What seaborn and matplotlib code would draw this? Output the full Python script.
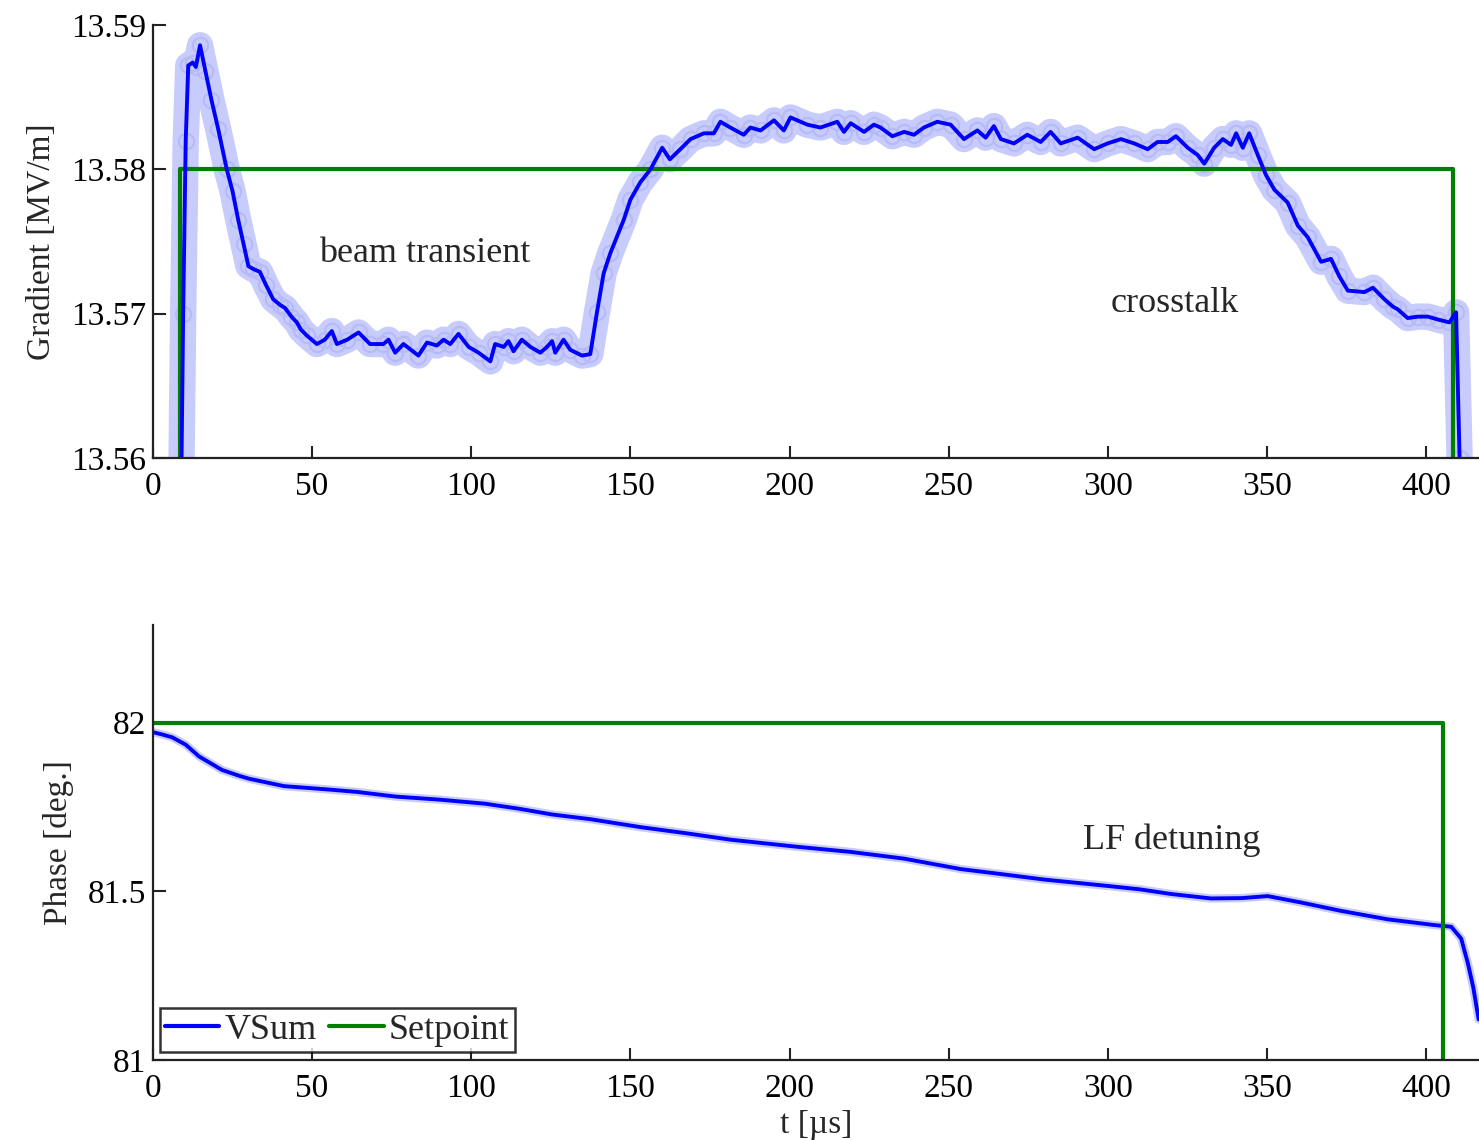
import matplotlib
matplotlib.use("Agg")
import matplotlib.pyplot as plt
import seaborn as sns
import numpy as np

# ---------------- data ----------------
grad_t = [8.8, 9.5, 10.3, 11.1, 12.5, 13.5, 14.8, 16.5, 18.4, 20.5,
          23.2, 25.0, 26.8, 28.5, 30.0, 31.5, 33.6, 35.5, 37.8, 40.0,
          41.5, 43.5, 45.2, 46.5, 48.3, 51.5, 54.0, 56.2, 57.8, 61.0,
          64.6, 68.2, 72.4, 74.0, 76.1, 78.7, 83.4, 86.1, 89.2, 91.3,
          93.4, 96.0, 99.2, 102.3, 106.0, 107.5, 110.2, 111.7, 113.3, 115.9,
          118.6, 121.7, 123.8, 125.4, 126.4, 129.0, 131.1, 134.8, 137.4, 139.5,
          141.6, 143.7, 147.9, 150.0, 153.1, 156.3, 160.0, 162.4, 165.7, 168.9,
          173.1, 176.2, 178.3, 181.4, 185.6, 187.7, 190.9, 195.1, 198.2, 200.3,
          205.6, 209.7, 215.0, 217.1, 219.2, 223.4, 226.5, 228.6, 232.3, 236.0,
          239.1, 242.2, 246.4, 250.6, 254.8, 259.0, 261.6, 264.2, 266.4, 270.5,
          274.7, 278.9, 282.0, 285.2, 290.5, 295.7, 299.9, 304.1, 308.3, 312.5,
          315.6, 318.8, 321.4, 325.1, 328.2, 330.3, 333.4, 336.1, 338.7, 340.3,
          342.4, 344.4, 347.1, 349.7, 352.3, 356.5, 359.7, 362.8, 367.0, 370.1,
          372.7, 375.4, 380.6, 383.3, 386.9, 389.5, 391.1, 394.2, 397.4, 400.5,
          403.7, 407.3, 409.4, 410.5, 411.2]
grad_v = [13.5560, 13.5700, 13.5820, 13.5872, 13.5874, 13.5871, 13.5886, 13.5868, 13.5848, 13.5828,
          13.5800, 13.5785, 13.5765, 13.5748, 13.5733, 13.5731, 13.5729, 13.5720, 13.5710, 13.5706,
          13.5704, 13.5698, 13.5694, 13.5689, 13.5685, 13.5679, 13.5682, 13.5688, 13.5679, 13.5682,
          13.5687, 13.5679, 13.5679, 13.5682, 13.5673, 13.5679, 13.5671, 13.5680, 13.5678, 13.5682,
          13.5679, 13.5686, 13.5677, 13.5673, 13.5667, 13.5679, 13.5677, 13.5681, 13.5674, 13.5682,
          13.5677, 13.5673, 13.5677, 13.5681, 13.5673, 13.5682, 13.5675, 13.5671, 13.5672, 13.5701,
          13.5728, 13.5742, 13.5765, 13.5779, 13.5791, 13.5800, 13.5815, 13.5807, 13.5814, 13.5821,
          13.5825, 13.5825, 13.5833, 13.5829, 13.5824, 13.5829, 13.5827, 13.5834, 13.5827, 13.5836,
          13.5831, 13.5829, 13.5833, 13.5826, 13.5832, 13.5826, 13.5831, 13.5829, 13.5823, 13.5826,
          13.5824, 13.5829, 13.5833, 13.5831, 13.5821, 13.5827, 13.5822, 13.5830, 13.5821, 13.5818,
          13.5824, 13.5819, 13.5826, 13.5818, 13.5822, 13.5814, 13.5818, 13.5821, 13.5818, 13.5814,
          13.5819, 13.5819, 13.5823, 13.5815, 13.5810, 13.5804, 13.5815, 13.5821, 13.5817, 13.5825,
          13.5815, 13.5825, 13.5810, 13.5796, 13.5786, 13.5777, 13.5761, 13.5753, 13.5736, 13.5738,
          13.5726, 13.5716, 13.5715, 13.5718, 13.5710, 13.5705, 13.5703, 13.5697, 13.5698, 13.5698,
          13.5696, 13.5694, 13.5701, 13.5600, 13.5550]

grad_set_t = [8.5, 8.5, 408.4, 408.4]
grad_set_v = [13.555, 13.580, 13.580, 13.555]

phase_t = [0, 3, 6, 10.3, 14.5, 21.7, 27, 30.2, 41.2, 55.2,
           64, 76.3, 90, 104.3, 115, 125.4, 137.4, 153.5, 167, 181.6,
           202.6, 219.2, 236, 253.8, 265, 280, 300, 310, 320, 332.4,
           342, 350.2, 360.7, 373.3, 388, 402.6, 407.9, 411, 413.1, 414.8,
           416.5]
phase_v = [81.972, 81.965, 81.957, 81.935, 81.900, 81.860, 81.843, 81.834, 81.812, 81.802,
           81.795, 81.781, 81.772, 81.760, 81.745, 81.728, 81.714, 81.690, 81.673, 81.653,
           81.632, 81.617, 81.597, 81.566, 81.553, 81.535, 81.516, 81.506, 81.492, 81.479,
           81.480, 81.486, 81.467, 81.442, 81.417, 81.400, 81.395, 81.360, 81.287, 81.215,
           81.120]

phase_set_t = [0, 405.2, 405.2]
phase_set_v = [82.0, 82.0, 80.9]

x_ticks = [0, 50, 100, 150, 200, 250, 300, 350, 400]
grad_ticks = [13.56, 13.57, 13.58, 13.59]
grad_ticklabels = ["13.56", "13.57", "13.58", "13.59"]
phase_ticks = [81, 81.5, 82]
phase_ticklabels = ["81", "81.5", "82"]

# ---------------- style ----------------
sns.set_theme(style="ticks")
plt.rcParams["font.family"] = ["Liberation Serif", "DejaVu Serif"]

BLUE = "#0000ff"
GREEN = "#007f00"
LIGHT = "#c8ccfc"
FS = 24
FS_TXT = 26

fig = plt.figure(figsize=(14.79, 11.40), dpi=100)
ax1 = fig.add_axes([0.1034, 0.5982, 0.8966, 0.3798])
ax2 = fig.add_axes([0.1034, 0.0702, 0.8966, 0.3816])

# --- top panel: gradient ---
sns.lineplot(x=grad_t, y=grad_v, ax=ax1, color=LIGHT, linewidth=19,
             estimator=None, sort=False, legend=False, solid_capstyle="round")
sns.lineplot(x=grad_t, y=grad_v, ax=ax1, color=LIGHT, linewidth=0,
             marker="o", markersize=11, markerfacecolor="none",
             markeredgecolor="#b6bbf8", markeredgewidth=1.6,
             estimator=None, sort=False, legend=False)
sns.lineplot(x=grad_set_t, y=grad_set_v, ax=ax1, color=GREEN, linewidth=3,
             estimator=None, sort=False, legend=False)
sns.lineplot(x=grad_t, y=grad_v, ax=ax1, color=BLUE, linewidth=2.8,
             estimator=None, sort=False, legend=False)

ax1.set_xlim(0, 416.6)
ax1.set_ylim(13.56, 13.59)
ax1.set_yticks(grad_ticks)
ax1.set_yticklabels(grad_ticklabels)
ax1.set_ylabel("Gradient [MV/m]", fontsize=FS, labelpad=10)
ax1.set_xlabel("")
ax1.text(85.5, 13.5742, "beam transient", fontsize=FS_TXT, ha="center", va="center")
ax1.text(321, 13.5707, "crosstalk", fontsize=FS_TXT, ha="center", va="center")

# --- bottom panel: phase ---
sns.lineplot(x=phase_t, y=phase_v, ax=ax2, color=LIGHT, linewidth=6,
             estimator=None, sort=False, legend=False)
sns.lineplot(x=phase_t, y=phase_v, ax=ax2, color=BLUE, linewidth=2.8,
             estimator=None, sort=False, label="VSum")
sns.lineplot(x=phase_set_t, y=phase_set_v, ax=ax2, color=GREEN, linewidth=3,
             estimator=None, sort=False, label="Setpoint")

ax2.set_xlim(0, 416.6)
ax2.set_ylim(81, 82.29)
ax2.set_yticks(phase_ticks)
ax2.set_yticklabels(phase_ticklabels)
ax2.set_ylabel("Phase [deg.]", fontsize=FS, labelpad=10)
ax2.set_xlabel("t [µs]", fontsize=FS, labelpad=4)
ax2.text(320, 81.652, "LF detuning", fontsize=FS_TXT, ha="center", va="center")

leg = ax2.legend(loc="lower left", bbox_to_anchor=(0.005, 0.018), ncol=2,
                 fontsize=FS_TXT, frameon=True, fancybox=False, borderaxespad=0,
                 borderpad=0.15, handlelength=1.5, handletextpad=0.15,
                 columnspacing=0.35)
leg.get_frame().set_edgecolor("black")
leg.get_frame().set_linewidth(1.8)
for h in leg.get_lines():
    h.set_linewidth(3)

for ax in (ax1, ax2):
    ax.set_xticks(x_ticks)
    ax.set_xticklabels([str(v) for v in x_ticks])
    for side in ("top", "right"):
        ax.spines[side].set_visible(False)
    for side in ("left", "bottom"):
        ax.spines[side].set_color("#222222")
        ax.spines[side].set_linewidth(1.6)
    ax.tick_params(axis="both", direction="in", length=9, width=1.5,
                   labelsize=FS, colors="#222222", labelcolor="black")
    ax.tick_params(axis="x", pad=10)
    ax.tick_params(axis="y", pad=5)
    ax.set_facecolor("white")

fig.savefig("out.png", dpi=100, facecolor="white")
